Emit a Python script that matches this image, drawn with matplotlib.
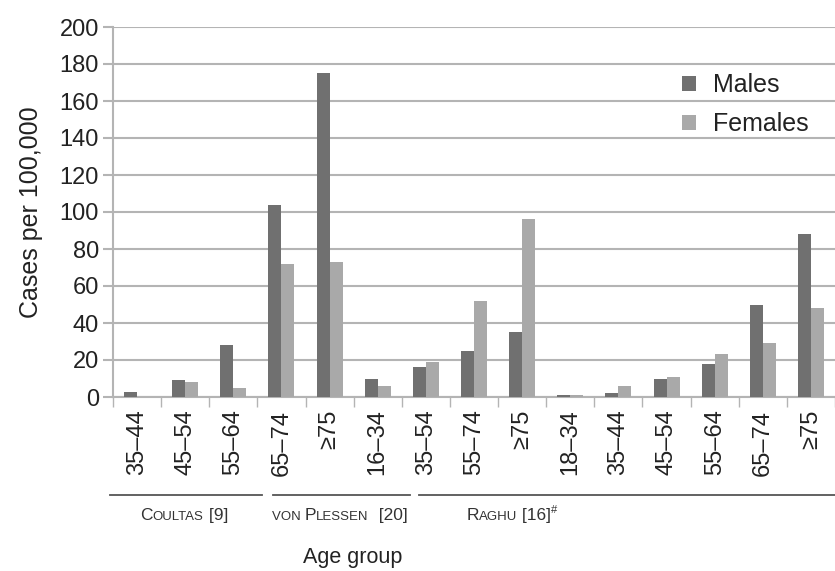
import matplotlib
matplotlib.use("Agg")
import matplotlib.pyplot as plt
import numpy as np

plt.rcParams["font.family"] = ["Liberation Sans", "DejaVu Sans"]

age_groups = ["35–44", "45–54", "55–64", "65–74", "≥75",
              "16–34", "35–54", "55–74", "≥75",
              "18–34", "35–44", "45–54", "55–64", "65–74", "≥75"]
males = [2.5, 9, 28, 104, 175, 10, 16, 25, 35, 1, 2, 10, 18, 50, 88]
females = [0, 8, 5, 72, 73, 6, 19, 52, 96, 1, 6, 11, 23, 29, 48]

dark, light, grid = "#707070", "#a9a9a9", "#b4b4b4"
W, H = 835, 571

fig = plt.figure(figsize=(8.35, 5.71), dpi=100)
ax = fig.add_axes([113 / W, 1 - 397 / H, 1 - 113 / W, 370 / H])

x = np.arange(len(age_groups))
w = 0.27
ax.bar(x - w / 2, males, w, color=dark, label="Males", zorder=3)
ax.bar(x + w / 2, females, w, color=light, label="Females", zorder=3)

ax.set_xlim(-0.5, len(age_groups) - 0.5)
ax.set_ylim(0, 200)
ax.set_yticks(range(0, 201, 20))
ax.yaxis.grid(True, color=grid, lw=1.5, zorder=0)
for s in ("top", "right"):
    ax.spines[s].set_visible(False)
for s in ("left", "bottom"):
    ax.spines[s].set_color(grid)
    ax.spines[s].set_linewidth(1.5)
ax.tick_params(axis="y", length=7, width=1.5, colors=grid, labelcolor="#222",
               labelsize=17, pad=3)

ax.set_xticks(x)
ax.set_xticklabels(age_groups, rotation=90, fontsize=17, color="#222")
ax.tick_params(axis="x", length=0, pad=9)
ax.set_xticks(np.arange(-0.5, len(age_groups)), minor=True)
ax.tick_params(axis="x", which="minor", length=7, width=1, color=grid)

ax.set_ylabel("Cases per 100,000", fontsize=18, color="#222", labelpad=12)

leg = ax.legend(loc="upper left", bbox_to_anchor=(569 / 722, 1 - 46 / 370), frameon=False,
                fontsize=18, handlelength=0.55, handleheight=0.55,
                handletextpad=0.7, labelspacing=0.6, borderpad=0, borderaxespad=0)
for t in leg.get_texts():
    t.set_color("#222")

# study brackets below the tick labels
line_y = 1 - 495 / H
spans = [(110, 262), (273, 410), (419, 835)]
for (x0, x1) in spans:
    fig.add_artist(plt.Line2D([x0 / W, x1 / W], [line_y, line_y],
                              color="#555", lw=1.3, transform=fig.transFigure))


def small_caps(parts, xc, y):
    # parts: (text, size, dy in px); placed left to right, whole run centred on xc
    r = fig.canvas.get_renderer()
    items = []
    for txt, sz, dy in parts:
        t = fig.text(0, y, txt, fontsize=sz, color="#333", va="baseline")
        items.append((t, t.get_window_extent(r).width, dy))
    total = sum(wd for _, wd, _ in items)
    cur = xc - total / 2
    for t, wd, dy in items:
        t.set_position((cur / W, y + dy / H))
        cur += wd


BIG, SM = 12.5, 9.5
ly = 1 - 520 / H
small_caps([("C", BIG, 0), ("OULTAS", SM, 0), (" [9]", BIG, 0)], 184, ly)
small_caps([("VON ", SM, 0), ("P", BIG, 0), ("LESSEN", SM, 0), ("  [20]", BIG, 0)], 340, ly)
small_caps([("R", BIG, 0), ("AGHU", SM, 0), (" [16]", BIG, 0), ("#", 8, 7)], 512, ly)

fig.text(353 / W, 1 - 557 / H, "Age group", fontsize=15.5, color="#222",
         ha="center", va="center")

fig.savefig("out.png", dpi=100)
